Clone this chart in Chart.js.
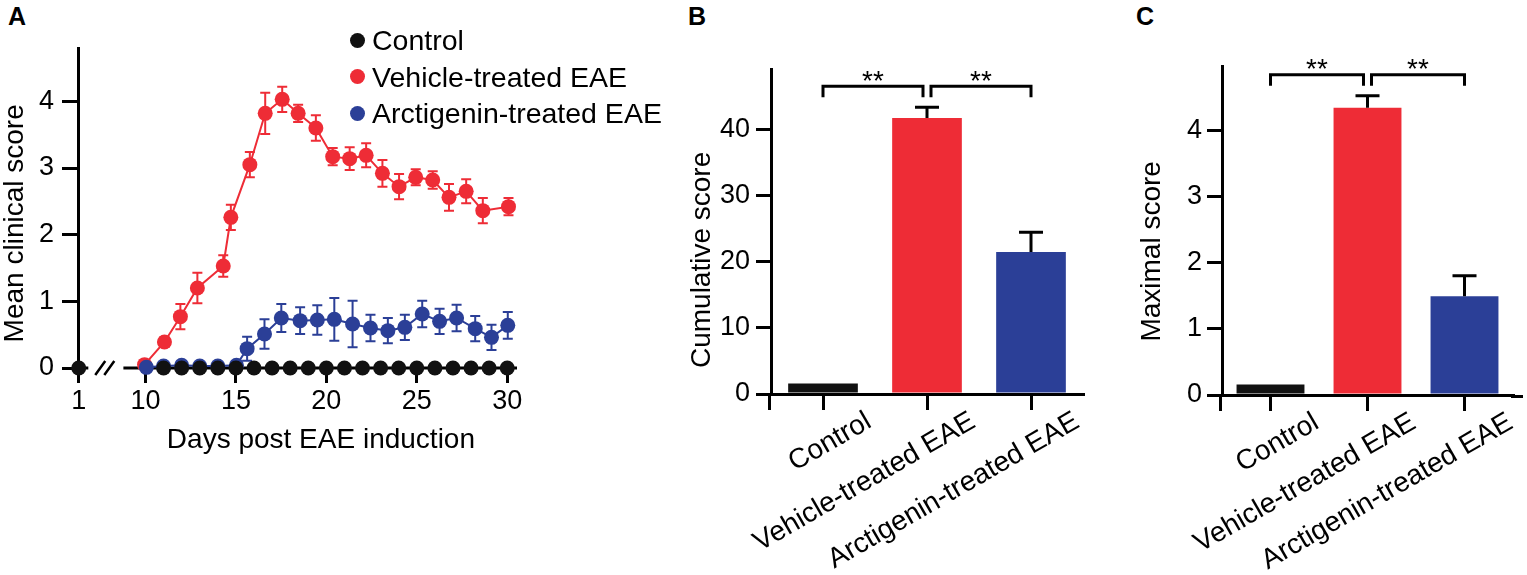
<!DOCTYPE html>
<html>
<head>
<meta charset="utf-8">
<script src="https://cdn.jsdelivr.net/npm/chart.js@4.4.1/dist/chart.umd.min.js"></script>
<style>
  body { margin: 0; background: #fff; width: 1527px; height: 575px; position: relative; overflow: hidden;
         font-family: "Liberation Sans", Arial, sans-serif; color: #000; }
  canvas { position: absolute; top: 0; }
  .tag { position: absolute; font-weight: bold; font-size: 25px; line-height: 1; }
  #legendA { position: absolute; left: 350px; top: 22px; }
  #legendA .item { display: flex; align-items: center; height: 36.6px; font-size: 28.5px; line-height: 1; }
  #legendA .dot { width: 15px; height: 15px; border-radius: 50%; margin-right: 7px; }
</style>
</head>
<body>
<div class="tag" style="left:8px;top:4px">A</div>
<div class="tag" style="left:688px;top:4px">B</div>
<div class="tag" style="left:1136px;top:4px">C</div>
<canvas id="chartA" width="690" height="575" style="left:0"></canvas>
<canvas id="chartB" width="420" height="575" style="left:690px"></canvas>
<canvas id="chartC" width="417" height="575" style="left:1110px"></canvas>
<div id="legendA"></div>

<script>
// ---- data ----
const seriesNames = ['Control', 'Vehicle-treated EAE', 'Arctigenin-treated EAE'];
const seriesColors = ['#111111', '#EE2C36', '#2B3F97'];

const controlDays = [1, 11, 12, 13, 14, 15, 16, 17, 18, 19, 20, 21, 22, 23, 24, 25, 26, 27, 28, 29, 30];
const controlScore = [0, 0, 0, 0, 0, 0, 0, 0, 0, 0, 0, 0, 0, 0, 0, 0, 0, 0, 0, 0, 0];

const vehicleDays = [9.95, 11.05, 11.93, 12.87, 14.3, 14.72, 15.77, 16.62, 17.56, 18.44, 19.42,
                     20.35, 21.29, 22.2, 23.1, 24.02, 24.94, 25.88, 26.78, 27.73, 28.65, 30.07];
const vehicleScore = [0.05, 0.39, 0.77, 1.2, 1.53, 2.26, 3.05, 3.82, 4.03, 3.82, 3.6,
                      3.17, 3.14, 3.19, 2.92, 2.72, 2.86, 2.82, 2.56, 2.65, 2.36, 2.42];
const vehicleSem = [0, 0.07, 0.19, 0.23, 0.16, 0.19, 0.19, 0.31, 0.19, 0.13, 0.19,
                    0.13, 0.17, 0.18, 0.2, 0.19, 0.12, 0.13, 0.2, 0.18, 0.19, 0.13];

const arctDays = [10.05, 11, 12, 13, 14, 15.03, 15.62, 16.58, 17.51, 18.55, 19.5,
                  20.44, 21.45, 22.44, 23.4, 24.34, 25.3, 26.26, 27.2, 28.23, 29.13, 30.03];
const arctScore = [0.01, 0.03, 0.04, 0.03, 0.03, 0.04, 0.29, 0.51, 0.75, 0.71, 0.72,
                   0.73, 0.66, 0.6, 0.56, 0.61, 0.81, 0.7, 0.75, 0.59, 0.46, 0.64];
const arctSem = [0, 0, 0, 0, 0, 0, 0.18, 0.22, 0.21, 0.2, 0.22,
                 0.32, 0.35, 0.2, 0.19, 0.19, 0.2, 0.19, 0.2, 0.19, 0.19, 0.2];

const xTicksA = [1, 10, 15, 20, 25, 30];

const groups = ['Control', 'Vehicle-treated EAE', 'Arctigenin-treated EAE'];
const cumulative = [1.6, 41.8, 21.5];
const cumulativeSem = [0, 1.6, 3.0];
const maximal = [0.16, 4.34, 1.49];
const maximalSem = [0, 0.18, 0.31];
const comparisons = [[0, 1, '**'], [1, 2, '**']];

// day 1 sits left of the axis break
const DAY1_POS = 6.31;
const axisPos = d => (d <= 1 ? DAY1_POS : d);
const pointsOf = (days, vals) => days.map((d, i) => ({ x: axisPos(d), y: vals[i] }));

Chart.defaults.font.family = '"Liberation Sans", Arial, sans-serif';
Chart.defaults.color = '#000';

const FONT = '28px "Liberation Sans", Arial, sans-serif';

// ---- plugins ----
function drawErrors(chart, index, opts) {
    const ds = chart.data.datasets[index];
    if (!ds.sem) return;
    const meta = chart.getDatasetMeta(index);
    const y = chart.scales.y;
    const ctx = chart.ctx;
    ctx.save();
    ctx.strokeStyle = opts.color || ds.borderColor;
    ctx.lineWidth = opts.width;
    meta.data.forEach((el, i) => {
        const s = ds.sem[i];
        if (!s) return;
        const raw = ds.data[i];
        const v = typeof raw === 'object' ? raw.y : raw;
        const top = y.getPixelForValue(v + s);
        const bottom = y.getPixelForValue(opts.both ? v - s : v);
        ctx.beginPath();
        ctx.moveTo(el.x, bottom);
        ctx.lineTo(el.x, top);
        ctx.moveTo(el.x - opts.cap, top);
        ctx.lineTo(el.x + opts.cap, top);
        if (opts.both) {
            ctx.moveTo(el.x - opts.cap, bottom);
            ctx.lineTo(el.x + opts.cap, bottom);
        }
        ctx.stroke();
    });
    ctx.restore();
}

const errorBars = {
    id: 'errorBars',
    beforeDatasetDraw(chart, args, opts) {
        if (opts.under) drawErrors(chart, args.index, opts);
    },
    afterDatasetsDraw(chart, args, opts) {
        if (!opts.under) chart.data.datasets.forEach((ds, i) => drawErrors(chart, i, opts));
    }
};

const axisTitles = {
    id: 'axisTitles',
    afterDraw(chart, args, o) {
        const { ctx, chartArea, scales } = chart;
        ctx.save();
        ctx.fillStyle = '#000';
        ctx.font = FONT;
        ctx.textAlign = 'center';
        ctx.textBaseline = 'middle';
        if (o.xText) {
            ctx.fillText(o.xText, scales.x.getPixelForValue(o.xAt), chartArea.bottom + o.xDrop);
        }
        if (o.yText) {
            ctx.translate(o.yLeft, scales.y.getPixelForValue(o.yAt));
            ctx.rotate(-Math.PI / 2);
            ctx.fillText(o.yText, 0, 0);
        }
        ctx.restore();
    }
};

// x axis of panel A with the // break
const brokenAxis = {
    id: 'brokenAxis',
    beforeDatasetsDraw(chart, args, o) {
        const { ctx, chartArea: c, scales: { x, y } } = chart;
        const y0 = y.getPixelForValue(0);
        ctx.save();
        ctx.strokeStyle = '#000';
        ctx.lineWidth = 3;
        ctx.beginPath();
        ctx.moveTo(c.left - 1.5, y0);
        ctx.lineTo(x.getPixelForValue(o.from), y0);
        ctx.moveTo(x.getPixelForValue(o.to), y0);
        ctx.lineTo(c.right, y0);
        ctx.stroke();
        ctx.lineWidth = 2.5;
        ctx.beginPath();
        o.slashes.forEach(v => {
            const px = x.getPixelForValue(v);
            ctx.moveTo(px - 5, y0 + 7);
            ctx.lineTo(px + 5, y0 - 7);
        });
        ctx.stroke();
        ctx.restore();
    }
};

const axisExtend = {
    id: 'axisExtend',
    beforeDatasetsDraw(chart, args, o) {
        const { ctx, chartArea: c } = chart;
        ctx.save();
        ctx.strokeStyle = '#000';
        ctx.lineWidth = 3;
        ctx.beginPath();
        if (o.down) {
            ctx.moveTo(c.left - 1.5, c.bottom);
            ctx.lineTo(c.left - 1.5, c.bottom + o.down);
        }
        if (o.right) {
            ctx.moveTo(c.right - 2, c.bottom + 1.5);
            ctx.lineTo(c.right + o.right, c.bottom + 1.5);
        }
        ctx.stroke();
        ctx.restore();
    }
};

const brackets = {
    id: 'brackets',
    afterDatasetsDraw(chart, args, o) {
        const { ctx, scales: { x, y } } = chart;
        const ds = chart.data.datasets[0];
        ctx.save();
        ctx.strokeStyle = '#000';
        ctx.fillStyle = '#000';
        ctx.lineWidth = 3;
        ctx.font = FONT;
        ctx.textAlign = 'center';
        ctx.textBaseline = 'alphabetic';
        comparisons.forEach(([a, b, label]) => {
            let top = 0;
            for (let i = a; i <= b; i++) top = Math.max(top, ds.data[i] + (ds.sem[i] || 0));
            const base = y.getPixelForValue(top) - 10;
            const line = base - 11;
            let xa = x.getPixelForValue(a);
            let xb = x.getPixelForValue(b);
            if (comparisons.some(c => c[1] === a)) xa += 4;
            if (comparisons.some(c => c[0] === b)) xb -= 4;
            ctx.beginPath();
            ctx.moveTo(xa, base);
            ctx.lineTo(xa, line);
            ctx.lineTo(xb, line);
            ctx.lineTo(xb, base);
            ctx.stroke();
            ctx.fillText(label, (xa + xb) / 2, line + 3.5);
        });
        ctx.restore();
    }
};

// ---- panel A ----
const lineStyle = (i) => ({
    label: seriesNames[i],
    borderColor: seriesColors[i],
    backgroundColor: seriesColors[i],
    pointBackgroundColor: seriesColors[i],
    pointBorderWidth: 0,
    pointRadius: 7.5,
    pointHoverRadius: 7.5,
    borderWidth: 2,
    tension: 0,
    clip: false
});

const chartA = new Chart(document.getElementById('chartA'), {
    type: 'line',
    data: {
        datasets: [
            { ...lineStyle(0), data: pointsOf(controlDays, controlScore), showLine: false, order: 0 },
            { ...lineStyle(1), data: pointsOf(vehicleDays, vehicleScore), sem: vehicleSem, order: 2 },
            { ...lineStyle(2), data: pointsOf(arctDays, arctScore), sem: arctSem, order: 1 }
        ]
    },
    options: {
        responsive: false,
        animation: false,
        events: [],
        layout: { padding: { left: 0, top: 48, right: 173, bottom: 0 } },
        plugins: {
            legend: { display: false },
            tooltip: { enabled: false },
            errorBars: { under: true, both: true, cap: 5, width: 2 },
            axisTitles: { xText: 'Days post EAE induction', xAt: 19.7, xDrop: 72,
                          yText: 'Mean clinical score', yLeft: 15, yAt: 2.17 },
            brokenAxis: { from: 6.84, to: 8.78, slashes: [7.5, 8.0] }
        },
        scales: {
            x: {
                type: 'linear',
                min: 6.27,
                max: 30.54,
                afterBuildTicks: s => { s.ticks = xTicksA.map(d => ({ value: axisPos(d) })); },
                afterFit: s => { s.height = 207; },
                border: { display: false },
                grid: { drawOnChartArea: false, tickLength: 15, lineWidth: 3, color: '#000' },
                ticks: { font: { size: 27 }, padding: 2, callback: (v, i) => xTicksA[i], maxRotation: 0 }
            },
            y: {
                min: 0,
                max: 4.8,
                afterFit: s => { s.width = 78; },
                border: { width: 3, color: '#000' },
                grid: { drawOnChartArea: false, tickLength: 16, lineWidth: 3, color: '#000' },
                ticks: { font: { size: 27 }, padding: 8, stepSize: 1, includeBounds: false }
            }
        }
    },
    plugins: [errorBars, axisTitles, brokenAxis]
});

// legend of panel A
const legendA = document.getElementById('legendA');
seriesNames.forEach((name, i) => {
    const row = document.createElement('div');
    row.className = 'item';
    const dot = document.createElement('span');
    dot.className = 'dot';
    dot.style.background = seriesColors[i];
    row.appendChild(dot);
    row.appendChild(document.createTextNode(name));
    legendA.appendChild(row);
});

// ---- panels B and C ----
function barChart(id, values, sem, yMax, step, yTitle, opts) {
    return new Chart(document.getElementById(id), {
        type: 'bar',
        data: {
            labels: groups,
            datasets: [{
                data: values,
                sem: sem,
                backgroundColor: seriesColors,
                borderWidth: 0,
                barPercentage: opts.barPct,
                categoryPercentage: 1
            }]
        },
        options: {
            responsive: false,
            animation: false,
            events: [],
            layout: { padding: { left: 0, top: opts.top, right: opts.right, bottom: 0 } },
            plugins: {
                legend: { display: false },
                tooltip: { enabled: false },
                errorBars: { under: false, both: false, cap: 12, width: 3, color: '#000' },
                axisTitles: { yText: yTitle, yLeft: opts.titleX, yAt: opts.titleAt },
                axisExtend: { down: 16, right: opts.extendRight }
            },
            scales: {
                x: {
                    offset: true,
                    afterFit: s => { s.height = 575 - opts.bottom; },
                    border: { width: 3, color: '#000' },
                    grid: { offset: false, drawOnChartArea: false, tickLength: 16, lineWidth: 3, color: '#000' },
                    ticks: { font: { size: 28 }, minRotation: 30, maxRotation: 30, labelOffset: 46,
                             padding: -5, autoSkip: false }
                },
                y: {
                    min: 0,
                    max: yMax,
                    afterFit: s => { s.width = opts.left; },
                    border: { width: 3, color: '#000' },
                    grid: { drawOnChartArea: false, tickLength: 15, lineWidth: 3, color: '#000' },
                    ticks: { font: { size: 27 }, padding: opts.tickPad, stepSize: step, includeBounds: false }
                }
            }
        },
        plugins: [errorBars, axisTitles, axisExtend, brackets]
    });
}

barChart('chartB', cumulative, cumulativeSem, 49.2, 10, 'Cumulative score',
    { left: 81, right: 27, top: 69, bottom: 394, barPct: 0.67, tickPad: 6,
      titleX: 12, titleAt: 20.3, extendRight: 0 });

barChart('chartC', maximal, maximalSem, 4.97, 1, 'Maximal score',
    { left: 112, right: 14, top: 66, bottom: 395, barPct: 0.7, tickPad: 5,
      titleX: 42, titleAt: 2.17, extendRight: 10 });
</script>
</body>
</html>
